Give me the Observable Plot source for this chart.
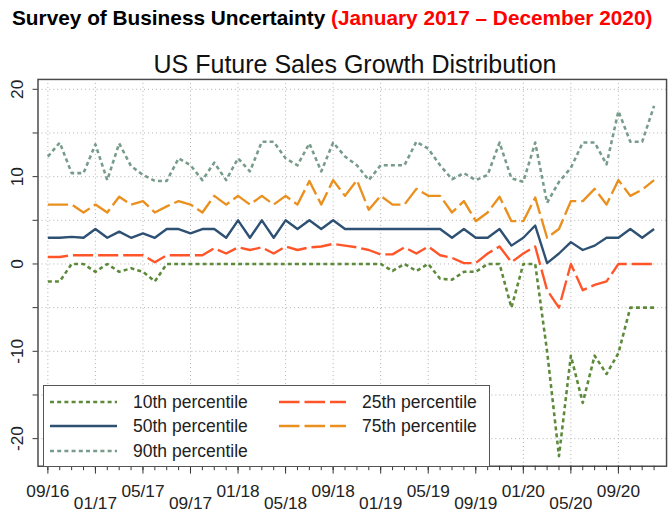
<!DOCTYPE html>
<html><head><meta charset="utf-8">
<script src="https://cdn.jsdelivr.net/npm/d3@7"></script>
<script src="https://cdn.jsdelivr.net/npm/@observablehq/plot@0.6"></script>
<style>
html,body{margin:0;padding:0;background:#fff;overflow:hidden;width:671px;height:521px;}
#wrap{position:relative;width:671px;height:521px;overflow:hidden;font-family:Arial,"Liberation Sans",sans-serif;}
#chart{position:absolute;left:0;top:0;}
#title{position:absolute;left:12px;top:6px;font-weight:bold;font-size:20.8px;line-height:24px;white-space:nowrap;color:#000;}
#title .red{color:#ff0000;}
#subtitle{position:absolute;left:0;width:710px;top:51px;text-align:center;font-size:25px;line-height:26px;color:#111;white-space:nowrap;}
#legend{position:absolute;left:43px;top:385px;width:447px;height:82px;box-sizing:border-box;border:1.5px solid #555;background:#fff;}
.li{position:absolute;font-size:17.5px;line-height:20px;color:#222;white-space:nowrap;}
.ls{position:absolute;}
</style></head>
<body><div id="wrap">
<div id="chart"></div>
<div id="title">Survey of Business Uncertainty <span class="red">(January 2017 – December 2020)</span></div>
<div id="subtitle">US Future Sales Growth Distribution</div>
<div id="legend"></div>
</div>
<script>
const months = ["2016-09","2016-10","2016-11","2016-12",
"2017-01","2017-02","2017-03","2017-04","2017-05","2017-06","2017-07","2017-08","2017-09","2017-10","2017-11","2017-12",
"2018-01","2018-02","2018-03","2018-04","2018-05","2018-06","2018-07","2018-08","2018-09","2018-10","2018-11","2018-12",
"2019-01","2019-02","2019-03","2019-04","2019-05","2019-06","2019-07","2019-08","2019-09","2019-10","2019-11","2019-12",
"2020-01","2020-02","2020-03","2020-04","2020-05","2020-06","2020-07","2020-08","2020-09","2020-10","2020-11","2020-12"];

const p10 = [-2.0,-2.0,0,0,-0.9,0,-0.9,-0.5,-0.9,-2.0,0,0,0,0,0,0,
0,0,0,0,0,0,0,0,0,0,0,0,
0,-0.8,0,-0.8,0,-1.7,-1.8,-0.9,-0.9,0,0,-5.0,
0,0,-10.0,-22.0,-10.5,-15.9,-10.5,-12.6,-10.2,-5.0,-5.0,-5.0];
const p25 = [0.8,0.8,1.0,1.0,1.0,1.0,1.0,1.0,1.0,0.2,1.0,1.0,1.0,1.0,1.8,1.2,
1.9,1.6,1.9,1.2,2.0,1.6,1.9,2.0,2.3,2.1,1.9,1.6,
1.1,1.1,1.9,1.2,2.0,1.0,0.7,0.1,0.1,1.2,2.0,0.2,
1.2,2.0,-3.0,-5.0,0.0,-3.0,-2.4,-2.0,0.0,0.0,0.0,0.0];
const p50 = [3.0,3.0,3.1,3.0,4.0,3.0,3.7,3.0,3.5,3.0,4.0,4.0,3.5,4.0,4.0,3.0,
5.0,3.0,5.0,3.0,5.0,4.0,5.0,4.0,5.0,4.0,4.0,4.0,
4.0,4.0,4.0,4.0,4.0,4.0,3.0,4.0,3.0,3.0,4.0,2.1,
3.0,4.4,0.1,1.2,2.5,1.6,2.1,3.0,3.0,4.0,3.0,4.0];
const p75 = [6.8,6.8,6.8,5.9,6.8,5.9,7.7,6.8,7.2,5.9,6.6,7.2,6.8,5.9,7.8,6.8,
7.8,6.8,7.8,6.8,7.8,6.8,9.5,6.8,9.6,7.8,9.6,6.2,
7.8,6.8,6.8,8.6,7.8,7.8,5.9,7.2,4.9,5.9,7.7,4.9,
4.9,7.6,3.0,4.0,7.2,7.2,8.6,6.8,9.6,7.8,8.5,9.6];
const p90 = [12.3,13.9,10.4,10.4,13.7,9.6,13.8,11.2,10.2,9.5,9.5,12.1,11.3,9.6,11.6,9.6,
12.1,10.6,14.0,14.0,12.1,11.3,13.8,10.6,13.9,12.3,11.3,9.6,
11.3,11.3,11.3,14.0,13.2,11.3,9.7,10.4,9.6,10.2,13.9,9.8,
9.4,13.9,7.0,9.4,11.0,13.9,13.9,11.4,17.5,14.0,14.0,18.1];

const seriesNames = ["10th percentile","50th percentile","90th percentile","25th percentile","75th percentile"];
const tickLabels = ["09/16","01/17","05/17","09/17","01/18","05/18","09/18","01/19","05/19","09/19","01/20","05/20","09/20"];
const yTickLabels = [20,10,0,-10,-20];
const yGridValues = [20,15,10,5,0,-5,-10,-15,-20];

// styles (kept separate from data)
const styles = {
  "10th percentile": {stroke:"#5c8a3a", width:2.6, dash:"4,3.2"},
  "50th percentile": {stroke:"#2d5073", width:2.4, dash:null},
  "90th percentile": {stroke:"#789c8c", width:2.6, dash:"4,3.2"},
  "25th percentile": {stroke:"#ff5528", width:2.4, dash:"20.5,5"},
  "75th percentile": {stroke:"#ea901e", width:2.4, dash:"20.5,5"}
};
const seriesValues = [p10,p50,p90,p25,p75];

const idx = m => months.indexOf(m);
const labelToIdx = l => idx("20" + l.slice(3) + "-" + l.slice(0,2));
const ticks = tickLabels.map((l,k) => ({i: labelToIdx(l), label: l, row: k % 2}));
const majorIdx = ticks.map(t => t.i);
const allIdx = months.map((m,i) => i);

const lineMarks = [];
seriesNames.forEach((name, s) => {
  const st = styles[name];
  const data = months.map((m,i) => ({i, v: seriesValues[s][i]}));
  lineMarks.push(Plot.lineY(data, {x:"i", y:"v", stroke: st.stroke, strokeWidth: st.width,
    strokeDasharray: st.dash || undefined, strokeLinecap:"butt", strokeLinejoin:"round"}));
});
const order = [2,4,1,3,0];
const orderedLines = order.map(k => lineMarks[k]);

const chart = Plot.plot({
  width: 680, height: 521,
  marginLeft: 38, marginRight: 5, marginTop: 80, marginBottom: 49,
  x: {domain: [-0.83, 52.05], axis: null, label: null},
  y: {domain: [-23.16, 21.13], axis: null, label: null},
  style: {background: "transparent", fontFamily: "Arial, 'Liberation Sans', sans-serif", color:"#222"},
  marks: [
    Plot.gridY(yGridValues, {stroke:"#b0b0b0", strokeOpacity:1, strokeDasharray:"1,3", strokeWidth:1}),
    Plot.gridX(majorIdx, {stroke:"#b0b0b0", strokeOpacity:1, strokeDasharray:"1,3", strokeWidth:1}),
    ...orderedLines,
    Plot.frame({stroke:"#4a4a4a", strokeWidth:1.5}),
    Plot.axisX(allIdx, {anchor:"bottom", tickSize:4.5, tickFormat: () => "", stroke:"#333", label:null}),
    Plot.axisX(majorIdx, {anchor:"bottom", tickSize:8, tickFormat: () => "", stroke:"#333", label:null}),
    Plot.axisY(yGridValues, {anchor:"left", tickSize:5, tickFormat: () => "", stroke:"#333", label:null}),
    Plot.text(yTickLabels, {y: d => d, text: d => String(d), frameAnchor:"left", dx:-21, rotate:-90,
      textAnchor:"middle", lineAnchor:"middle", fontSize:17.5, fill:"#222"}),
    Plot.text(ticks.filter(t => t.row === 0), {x:"i", text:"label", frameAnchor:"bottom", dy:26,
      textAnchor:"middle", lineAnchor:"middle", fontSize:17.5, fill:"#222"}),
    Plot.text(ticks.filter(t => t.row === 1), {x:"i", text:"label", frameAnchor:"bottom", dy:43.5,
      textAnchor:"middle", lineAnchor:"bottom", fontSize:17.5, fill:"#222"})
  ]
});
document.getElementById("chart").appendChild(chart);

// legend
const legendPos = {
  "10th percentile": [50, 402], "50th percentile": [50, 426], "90th percentile": [50, 451],
  "25th percentile": [279, 402], "75th percentile": [279, 426]
};
const wrap = document.getElementById("wrap");
seriesNames.forEach(name => {
  const st = styles[name];
  const [x, y] = legendPos[name];
  const svg = document.createElementNS("http://www.w3.org/2000/svg","svg");
  svg.setAttribute("class","ls");
  svg.setAttribute("width", 70); svg.setAttribute("height", 10);
  svg.style.left = x + "px"; svg.style.top = (y - 5) + "px";
  const ln = document.createElementNS("http://www.w3.org/2000/svg","line");
  ln.setAttribute("x1", 0); ln.setAttribute("x2", 67); ln.setAttribute("y1", 5); ln.setAttribute("y2", 5);
  ln.setAttribute("stroke", st.stroke); ln.setAttribute("stroke-width", st.width);
  if (st.dash) ln.setAttribute("stroke-dasharray", st.dash);
  svg.appendChild(ln);
  wrap.appendChild(svg);
  const t = document.createElement("div");
  t.className = "li"; t.textContent = name;
  t.style.left = (x + 83) + "px"; t.style.top = (y - 10) + "px";
  wrap.appendChild(t);
});
</script>
</body></html>
